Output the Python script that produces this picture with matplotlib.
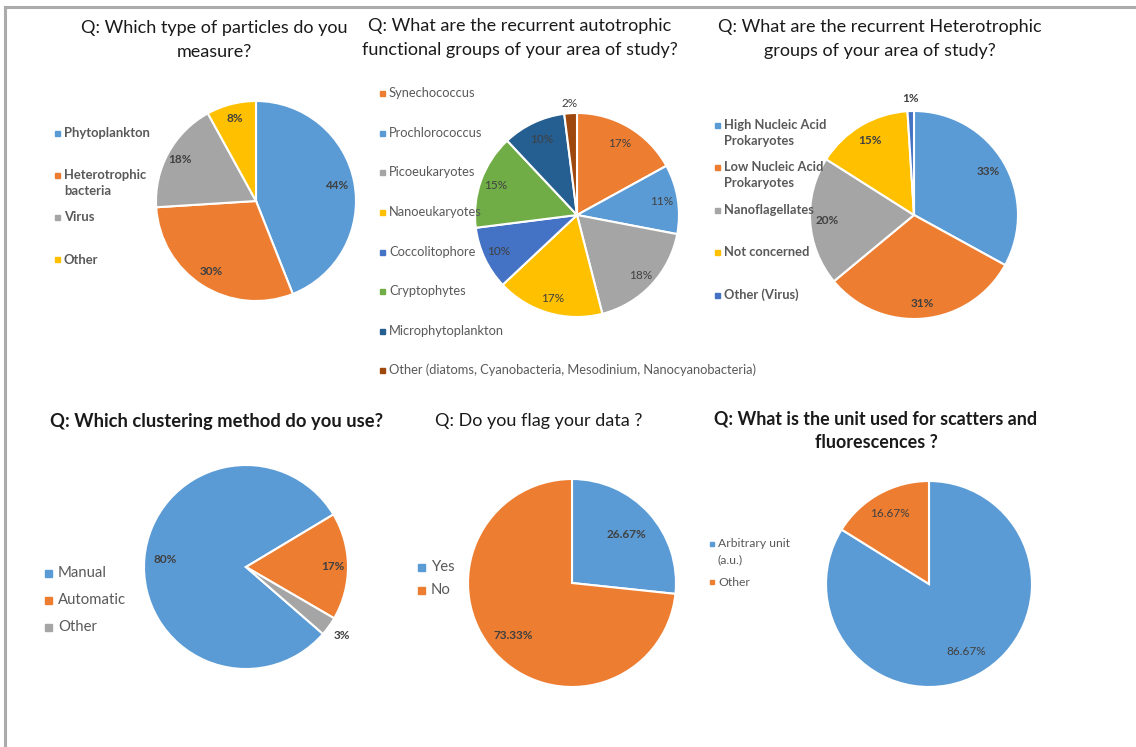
import numpy as np
import matplotlib
matplotlib.use("Agg")
import matplotlib.pyplot as plt
from matplotlib.patches import Rectangle
from matplotlib.lines import Line2D

plt.rcParams['font.family'] = ['Lato', 'DejaVu Sans']

W, H = 1136, 747

# ------- DATA -------

# Q1 particles
p1_labels = ["Phytoplankton", "Heterotrophic\nbacteria", "Virus", "Other"]
p1_values = [44, 30, 18, 8]
p1_text = ["44%", "30%", "18%", "8%"]

# Q2 autotrophic groups
p2_labels = ["Synechococcus", "Prochlorococcus", "Picoeukaryotes", "Nanoeukaryotes",
             "Coccolitophore", "Cryptophytes", "Microphytoplankton",
             "Other (diatoms, Cyanobacteria, Mesodinium, Nanocyanobacteria)"]
p2_values = [17, 11, 18, 17, 10, 15, 10, 2]
p2_text = ["17%", "11%", "18%", "17%", "10%", "15%", "10%", "2%"]

# Q3 heterotrophic groups
p3_labels = ["High Nucleic Acid\nProkaryotes", "Low Nucleic Acid\nProkaryotes",
             "Nanoflagellates", "Not concerned", "Other (Virus)"]
p3_values = [33, 31, 20, 15, 1]
p3_text = ["33%", "31%", "20%", "15%", "1%"]

# Q4 clustering
p4_labels = ["Manual", "Automatic", "Other"]
p4_values = [80, 17, 3]
p4_text = ["80%", "17%", "3%"]

# Q5 flag
p5_labels = ["Yes", "No"]
p5_values = [26.67, 73.33]
p5_text = ["26.67%", "73.33%"]

# Q6 unit
p6_labels = ["Arbitrary unit\n(a.u.)", "Other"]
p6_values = [86.67, 16.67]
p6_text = ["86.67%", "16.67%"]

# office colours
BLUE, ORANGE, GRAY, YELLOW = "#5B9BD5", "#ED7D31", "#A5A5A5", "#FFC000"
DBLUE, GREEN, NAVY, BROWN = "#4472C4", "#70AD47", "#255E91", "#9E480E"

TXT = "#404040"


def fx(x):
    return x / W


def fy(y):
    return 1 - y / H


fig = plt.figure(figsize=(W / 100, H / 100), dpi=100)

# frame lines of the screenshot
fig.add_artist(Line2D([fx(5), fx(W)], [fy(7), fy(7)], color="#ABABAB", lw=2.2))
fig.add_artist(Line2D([fx(5), fx(5)], [fy(7), fy(H)], color="#ABABAB", lw=2.2))


def pie_panel(cx, cy, r, values, colors, texts, dists, start, weight, size=8.5):
    ax = fig.add_axes([fx(cx - r), fy(cy + r), 2 * r / W, 2 * r / H])
    wedges, _ = ax.pie(values, colors=colors, startangle=start, counterclock=False,
                       wedgeprops=dict(edgecolor="white", linewidth=1.5))
    ax.set_xlim(-1, 1)
    ax.set_ylim(-1, 1)
    for w, t, d in zip(wedges, texts, dists):
        mid = np.deg2rad((w.theta1 + w.theta2) / 2)
        ax.text(d * np.cos(mid), d * np.sin(mid), t, ha="center", va="center",
                fontsize=size, color=TXT, fontweight=weight)
    return ax


def legend(x, ys, labels, colors, size, weight, msize=5, gap=2, line=1.45):
    # excel style legend: small square + text, multi-line entries hang from the marker
    for y, lab, c in zip(ys, labels, colors):
        fig.patches.append(Rectangle((fx(x - msize / 2), fy(y + msize / 2)), msize / W, msize / H,
                                     transform=fig.transFigure, color=c, figure=fig))
        if "\n" in lab:
            fig.text(fx(x + msize + gap), fy(y - size * 0.65), lab, ha="left", va="top",
                     fontsize=size, color="#595959", fontweight=weight, linespacing=line)
        else:
            fig.text(fx(x + msize + gap), fy(y), lab, ha="left", va="center",
                     fontsize=size, color="#595959", fontweight=weight)


def title(x, y, s, weight="normal", size=13, line=1.6):
    fig.text(fx(x), fy(y), s, ha="center", va="center", fontsize=size,
             color="#1A1A1A", fontweight=weight, linespacing=line)


# ------- PANEL 1 -------
title(214, 40, "Q: Which type of particles do you\nmeasure?")
pie_panel(256, 201, 100, p1_values, [BLUE, ORANGE, GRAY, YELLOW], p1_text,
          [0.82, 0.84, 0.87, 0.85], 90, "bold")
legend(57, [133, 175, 217, 260], p1_labels, [BLUE, ORANGE, GRAY, YELLOW], 9.4, "bold")

# ------- PANEL 2 -------
title(520, 38, "Q: What are the recurrent autotrophic\nfunctional groups of your area of study?")
c2 = [ORANGE, BLUE, GRAY, YELLOW, DBLUE, GREEN, NAVY, BROWN]
pie_panel(577, 215, 102, p2_values, c2, p2_text,
          [0.82, 0.84, 0.86, 0.85, 0.85, 0.85, 0.82, 1.1], 90, "normal")
legend(382, [93, 133, 172, 212, 252, 291, 331, 370], p2_labels, c2, 9.3, "normal")

# ------- PANEL 3 -------
title(880, 39, "Q: What are the recurrent Heterotrophic\ngroups of your area of study?")
c3 = [BLUE, ORANGE, GRAY, YELLOW, DBLUE]
pie_panel(914, 215, 104, p3_values, c3, p3_text,
          [0.83, 0.85, 0.84, 0.83, 1.12], 90, "bold")
legend(717, [125, 167, 210, 252, 295], p3_labels, c3, 9.3, "bold")

# ------- PANEL 4 -------
title(217, 422, "Q: Which clustering method do you use?", "bold", 13.2)
c4 = [BLUE, ORANGE, GRAY]
pie_panel(246, 567, 102, p4_values, c4, p4_text, [0.8, 0.85, 1.16], -41, "bold")
legend(48, [573, 600, 627], p4_labels, c4, 10.7, "normal", msize=7, gap=3)

# ------- PANEL 5 -------
title(539, 421, "Q: Do you flag your data ?")
c5 = [BLUE, ORANGE]
pie_panel(572, 583, 104, p5_values, c5, p5_text, [0.7, 0.76], 90, "bold")
legend(421, [567, 590], p5_labels, c5, 10.7, "normal", msize=7, gap=3)

# ------- PANEL 6 -------
title(876, 431, "Q: What is the unit used for scatters and\nfluorescences ?", "bold", 12.9, 1.5)
c6 = [BLUE, ORANGE]
pie_panel(929, 584, 103, p6_values, c6, p6_text, [0.75, 0.78], 90, "normal")
legend(712, [544, 582], p6_labels, c6, 8.7, "normal", msize=4, line=1.6)

fig.savefig("out.png", dpi=100, facecolor="white")
